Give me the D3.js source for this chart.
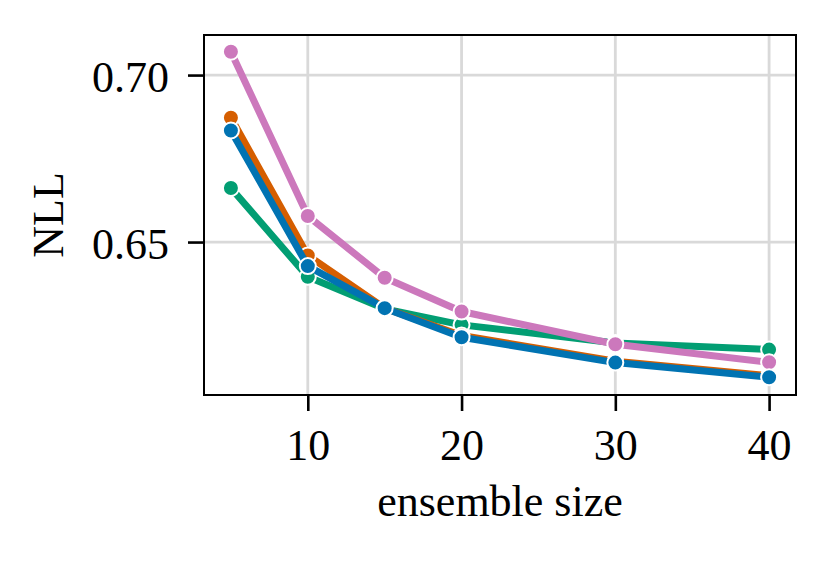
<!DOCTYPE html>
<html>
<head>
<meta charset="utf-8">
<script src="https://cdn.jsdelivr.net/npm/d3@7"></script>
<style>
  html, body { margin: 0; padding: 0; background: #fff; }
  svg text { font-family: "Liberation Serif", "Times New Roman", serif; fill: #000; }
</style>
</head>
<body>
<svg id="chart" width="831" height="563"></svg>
<script>
const ensembleSizes = [5, 10, 15, 20, 30, 40];
const seriesNames = ["green", "orange", "pink", "blue"];
const seriesColors = ["#029e73", "#d55e00", "#cc78bc", "#0173b2"];
const greenValues  = [0.6662, 0.6396, 0.6300, 0.6252, 0.6198, 0.6178];
const orangeValues = [0.6872, 0.6460, 0.6302, 0.6220, 0.6143, 0.6100];
const pinkValues   = [0.7070, 0.6578, 0.6393, 0.6292, 0.6194, 0.6140];
const blueValues   = [0.6834, 0.6428, 0.6302, 0.6215, 0.6139, 0.6095];
const xTicks = [10, 20, 30, 40];
const yTicks = [0.65, 0.70];
const xLabel = "ensemble size";
const yLabel = "NLL";

const allValues = [greenValues, orangeValues, pinkValues, blueValues];

const svg = d3.select("#chart");
const pLeft = 204, pRight = 796, pTop = 35, pBottom = 395;
const fontSize = 44;

const x = d3.scaleLinear().domain([3.25, 41.75]).range([pLeft, pRight]);
const y = d3.scaleLinear().domain([0.6042, 0.7120]).range([pBottom, pTop]);

// grid
const grid = svg.append("g");
grid.selectAll("line.vx").data(xTicks).enter().append("line")
  .attr("x1", d => x(d)).attr("x2", d => x(d))
  .attr("y1", pTop).attr("y2", pBottom)
  .attr("stroke", "#d9d9d9").attr("stroke-width", 2.8);
grid.selectAll("line.hy").data(yTicks).enter().append("line")
  .attr("x1", pLeft).attr("x2", pRight)
  .attr("y1", d => y(d)).attr("y2", d => y(d))
  .attr("stroke", "#d9d9d9").attr("stroke-width", 2.8);

// axes
const xAxis = d3.axisBottom(x).tickValues(xTicks).tickFormat(d3.format("d"))
  .tickSize(16).tickPadding(10);
const yAxis = d3.axisLeft(y).tickValues(yTicks).tickFormat(d3.format(".2f"))
  .tickSize(16).tickPadding(19);

const gx = svg.append("g").attr("transform", `translate(0,${pBottom})`).call(xAxis);
const gy = svg.append("g").attr("transform", `translate(${pLeft},0)`).call(yAxis);
[gx, gy].forEach(g => {
  g.select(".domain").remove();
  g.selectAll(".tick line").attr("stroke", "#000").attr("stroke-width", 2.6);
  g.selectAll(".tick text").attr("font-family", "Liberation Serif")
    .attr("font-size", fontSize).attr("fill", "#000");
});
gx.selectAll(".tick text").attr("y", 65).attr("dy", 0);
gy.selectAll(".tick text").attr("dy", "0.37em");

// lines and markers
const line = d3.line().x((d, i) => x(ensembleSizes[i])).y(d => y(d));
const plot = svg.append("g");
allValues.forEach((vals, si) => {
  const g = plot.append("g");
  g.append("path").datum(vals)
    .attr("d", line)
    .attr("fill", "none")
    .attr("stroke", seriesColors[si])
    .attr("stroke-width", 7)
    .attr("stroke-linejoin", "round")
    .attr("stroke-linecap", "round");
  g.selectAll("circle").data(vals).enter().append("circle")
    .attr("cx", (d, i) => x(ensembleSizes[i]))
    .attr("cy", d => y(d))
    .attr("r", 8)
    .attr("fill", seriesColors[si])
    .attr("stroke", "#fff")
    .attr("stroke-width", 2);
});

// frame
svg.append("rect")
  .attr("x", pLeft).attr("y", pTop)
  .attr("width", pRight - pLeft).attr("height", pBottom - pTop)
  .attr("fill", "none").attr("stroke", "#000").attr("stroke-width", 2);

// labels
svg.append("text")
  .attr("x", (pLeft + pRight) / 2).attr("y", 516)
  .attr("text-anchor", "middle")
  .attr("font-size", fontSize)
  .text(xLabel);
svg.append("text")
  .attr("transform", `translate(63,${(pTop + pBottom) / 2}) rotate(-90)`)
  .attr("text-anchor", "middle")
  .attr("font-size", fontSize)
  .text(yLabel);
</script>
</body>
</html>
